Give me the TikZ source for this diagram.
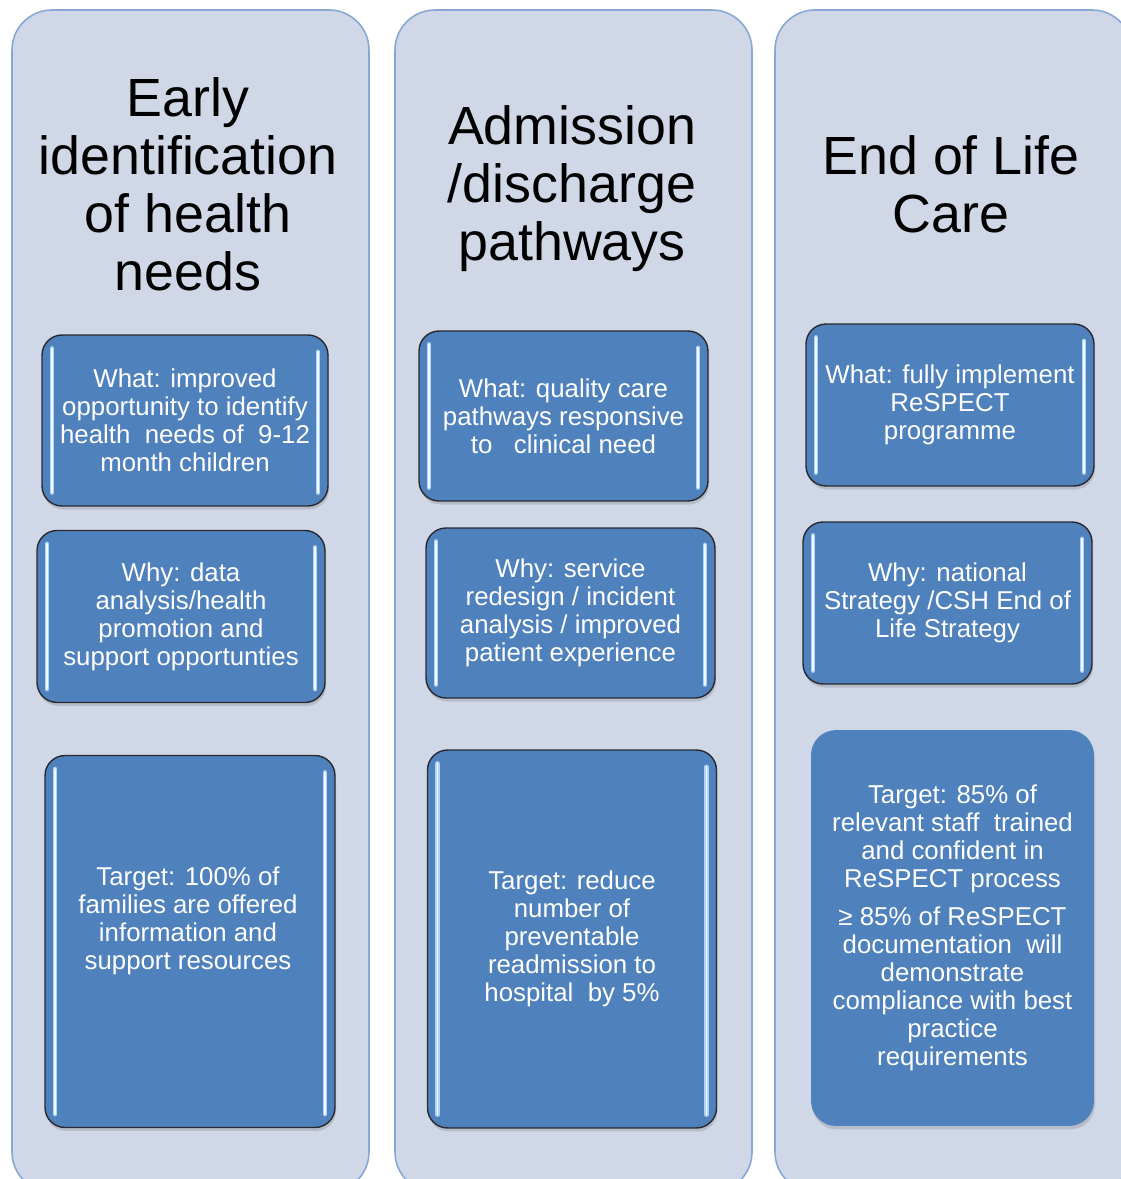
\documentclass[tikz,border=0pt]{standalone}
\usepackage{fontspec}
\setmainfont{Liberation Sans}
\usetikzlibrary{positioning,shadows}

\begin{document}
\begin{tikzpicture}[x=0.02cm, y=-0.02cm, every node/.style={align=center}]
    % colours
    \definecolor{panelfill}{RGB}{208,216,232}
    \definecolor{panelline}{RGB}{135,168,212}
    \definecolor{cardfill}{RGB}{79,129,189}
    \definecolor{cardline}{RGB}{40,42,48}
    \definecolor{glossout}{RGB}{176,210,244}
    \definecolor{glossin}{RGB}{240,248,255}

    % styles
    \tikzstyle{panel} = [draw=panelline, line width=0.9pt, fill=panelfill, rounded corners=0.8cm]
    \tikzstyle{heading} = [font=\fontsize{30.6}{33}\selectfont, text=black, inner sep=0pt]
    \tikzstyle{cardtext} = [text=white, font=\fontsize{14.7}{15.9}\selectfont, inner sep=0pt]
    \tikzstyle{card} = [rectangle, rounded corners=0.4cm, fill=cardfill, draw=cardline, line width=0.8pt, cardtext,
                        drop shadow={shadow xshift=0.6pt, shadow yshift=-2pt, opacity=0.3}]
    \tikzstyle{flatcard} = [card, draw=none, rounded corners=0.5cm]
    \tikzstyle{glossa} = [glossout, line width=2.6pt, line cap=round]
    \tikzstyle{glossb} = [glossin, line width=0.9pt, line cap=round]

    \useasboundingbox (0,0) rectangle (1121,1179);
    \fill[white] (0,0) rectangle (1121,1179);
    \clip (0,0) rectangle (1121,1179);

    % columns
    \draw[panel] (12,10) rectangle (369,1192);
    \draw[panel] (395,10) rectangle (752,1192);
    \draw[panel] (775,10) rectangle (1132,1192);

    \node[heading] (head1) at (188,184) {Early\\identification\\of health\\needs};
    \node[heading] (head2) at (572,189) {Admission\\/discharge\\pathways};
    \node[heading] (head3) at (951,184) {End of Life\\Care};

    % Early identification
    \node[card, minimum width=5.72cm, minimum height=3.42cm] (what1) at (185,420.5)
        {What: improved\\opportunity to identify\\health\ \ needs of\ \ 9-12\\month children};
    \node[card, minimum width=5.76cm, minimum height=3.44cm] (why1) at (181,616.5)
        {Why: data\\analysis/health\\promotion and\\support opportunties};
    \node[card, minimum width=5.8cm, minimum height=7.44cm] (tgt1) at (190,941.5) {};
    \node[cardtext] (tgt1txt) at (188,921)
        {Target: 100\% of\\families are offered\\information and\\support resources};

    % Admission / discharge
    \node[card, minimum width=5.78cm, minimum height=3.4cm] (what2) at (563.5,416)
        {What: quality care\\pathways responsive\\to\ \ \ clinical need};
    \node[card, minimum width=5.78cm, minimum height=3.4cm] (why2) at (570.5,613)
        {Why: service\\redesign / incident\\analysis / improved\\patient experience};
    \node[card, minimum width=5.78cm, minimum height=7.56cm] (tgt2) at (572,939)
        {Target: reduce\\number of\\preventable\\readmission to\\hospital\ \ by 5\%};

    % End of life care
    \node[card, minimum width=5.76cm, minimum height=3.24cm] (what3) at (950,405)
        {What: fully implement\\ReSPECT\\programme};
    \node[card, minimum width=5.78cm, minimum height=3.24cm] (why3) at (947.5,603)
        {Why: national\\Strategy /CSH End of\\Life Strategy};
    \node[flatcard, minimum width=5.66cm, minimum height=7.92cm] (tgt3) at (952.5,928)
        {Target: 85\% of\\relevant staff\ \ trained\\and confident in\\ReSPECT process\\[5.7pt]
         ≥ 85\% of ReSPECT\\documentation\ \ will\\demonstrate\\compliance with best\\practice\\requirements};

    % glossy edges
    \foreach \c in {what1,why1,tgt1,what2,why2,tgt2,what3,why3} {
        \foreach \s in {glossa,glossb} {
            \draw[\s] ([xshift=6pt,yshift=-8pt]\c.north west) -- ([xshift=6pt,yshift=8pt]\c.south west);
            \draw[\s] ([xshift=-6pt,yshift=-10pt]\c.north east) -- ([xshift=-6pt,yshift=8pt]\c.south east);
        }
    }
\end{tikzpicture}
\end{document}
